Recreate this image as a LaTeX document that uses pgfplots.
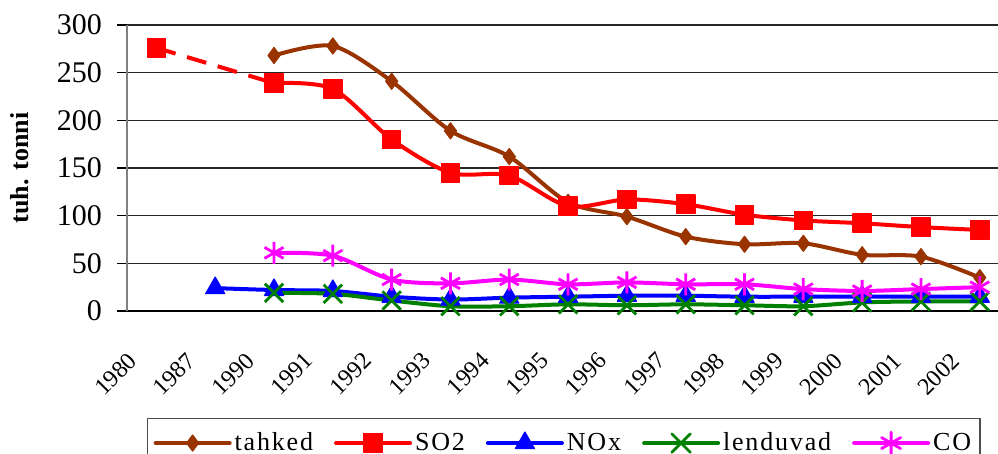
\documentclass[border=0pt]{standalone}
\usepackage{fontspec}
\setmainfont{Liberation Serif}
\usepackage{pgfplots}
\pgfplotsset{compat=1.18}

\definecolor{cTahked}{RGB}{153,51,0}
\definecolor{cSO}{RGB}{255,0,0}
\definecolor{cNO}{RGB}{0,0,255}
\definecolor{cLend}{RGB}{0,128,0}
\definecolor{cCO}{RGB}{255,0,255}

\begin{document}
\begin{tikzpicture}
\begin{axis}[
  at={(0pt,0pt)}, anchor=south west,
  scale only axis,
  width=435.5pt, height=143pt,
  xmin=-0.5, xmax=14.31,
  ymin=0, ymax=300,
  ytick={0,50,...,300},
  xtick={0,...,14},
  xticklabels={1980,1987,1990,1991,1992,1993,1994,1995,1996,1997,1998,1999,2000,2001,2002},
  minor xtick={-0.5,0.5,...,14.5},
  axis x line*=bottom, axis y line*=left,
  x axis line style={black, line width=0.6pt, -},
  y axis line style={black!50, line width=0.8pt, -},
  tick align=outside,
  major tick length=5pt,
  xtick style={draw=none},
  minor x tick style={black!55, line width=0.7pt},
  minor tick length=4.5pt,
  ytick style={black, line width=0.6pt},
  ymajorgrids,
  y grid style={black!85, line width=0.6pt},
  /pgf/number format/assume math mode=true,
  yticklabel style={font=\fontsize{15}{15}\selectfont, xshift=-4pt},
  xticklabel style={font=\fontsize{12}{12}\selectfont, rotate=45, anchor=north east, inner sep=1pt, xshift=-20pt, yshift=1pt},
  ylabel={tuh. tonni},
  ylabel style={font=\fontsize{13}{13}\selectfont\bfseries, at={(axis description cs:-0.123,0.5)}, anchor=center},
  legend columns=5,
  legend style={at={(axis description cs:0.023,-0.374)}, anchor=north west,
    draw=black!70, line width=0.6pt, inner xsep=3pt, inner ysep=5pt,
    nodes={inner xsep=1.5pt},
    font=\fontsize{13}{13}\selectfont\addfontfeature{LetterSpace=7},
    /tikz/every even column/.append style={column sep=9pt},
    /tikz/every odd column/.append style={column sep=0pt}},
  legend cell align=left,
  legend image code/.code={\draw[mark repeat=2,mark phase=2,line cap=round] plot coordinates {(0pt,0pt)(18.5pt,0pt)(37pt,0pt)};},
  every axis plot/.append style={line width=2pt, line join=round},
]
% tahked
\addplot[cTahked, smooth, mark=diamond*, mark size=4pt, mark options={solid, line width=0.6pt}] coordinates {
(2,268) (3,278) (4,241) (5,189) (6,162) (7,114) (8,99) (9,78) (10,70) (11,71) (12,59) (13,57) (14,35)
};
\addlegendentry{tahked}
% SO2 dashed part 1980-1990
\addplot[cSO, dashed, dash pattern=on 10pt off 6pt, mark=none, forget plot] coordinates {
(0,276) (2,239)
};
\addplot[cSO, only marks, mark=square*, mark size=4.6pt, mark options={solid, line width=0.6pt}, forget plot] coordinates {
(0,276)
};
\addplot[cSO, smooth, mark=square*, mark size=4.6pt, mark options={solid, line width=0.6pt}] coordinates {
(2,239) (3,233) (4,180) (5,145) (6,142) (7,110) (8,117) (9,112) (10,101) (11,95) (12,92) (13,88) (14,85)
};
\addlegendentry{SO2}
% NOx
\addplot[cNO, smooth, mark=triangle*, mark size=5.5pt, mark options={solid, line width=0.6pt}] coordinates {
(1,24) (2,22) (3,21) (4,15) (5,12) (6,14) (7,15) (8,16) (9,16) (10,15) (11,15) (12,15) (13,15) (14,15)
};
\addlegendentry{NOx}
% lenduvad
\addplot[cLend, smooth, mark=x, mark size=6.5pt, mark options={solid, line width=1.4pt}] coordinates {
(2,19) (3,18) (4,11) (5,5) (6,5) (7,7) (8,6) (9,7) (10,6) (11,5) (12,9) (13,10) (14,10)
};
\addlegendentry{lenduvad}
% CO
\addplot[cCO, smooth, mark=asterisk, mark size=5.5pt, mark options={solid, line width=1.4pt}] coordinates {
(2,61) (3,58) (4,33) (5,29) (6,33) (7,28) (8,30) (9,28) (10,28) (11,23) (12,21) (13,23) (14,25)
};
\addlegendentry{CO}
\end{axis}
\pgfresetboundingbox
\path (-63.5pt,-71.5pt) rectangle (435.5pt,155.5pt);
\end{tikzpicture}
\end{document}
